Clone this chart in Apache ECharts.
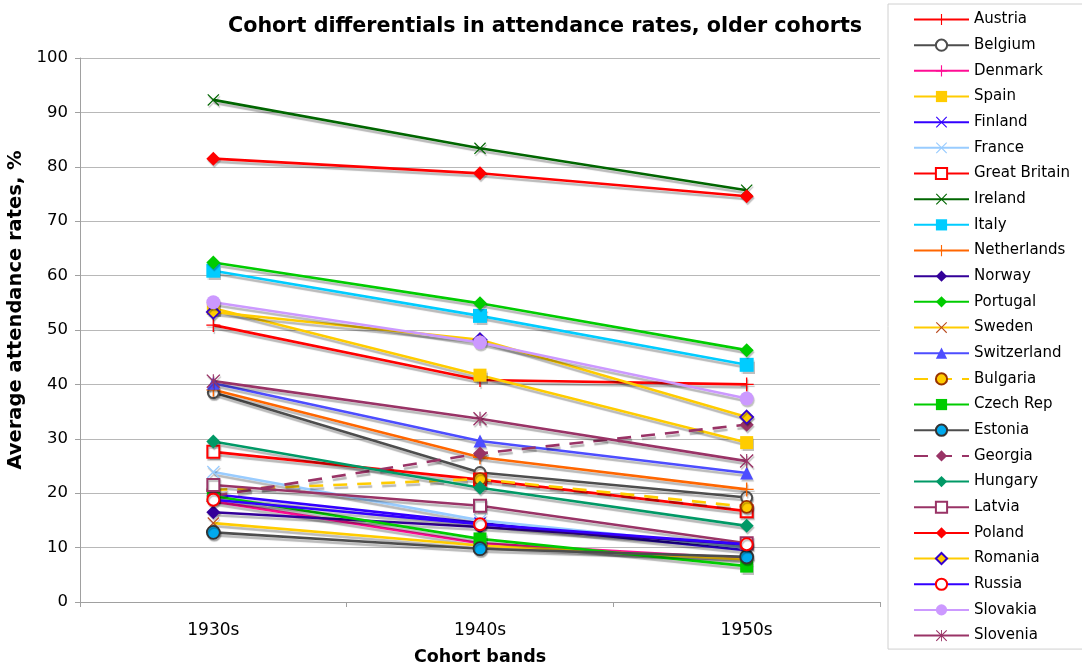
<!DOCTYPE html>
<html>
<head>
<meta charset="utf-8">
<script src="https://cdn.jsdelivr.net/npm/echarts@6/dist/echarts.min.js"></script>
<style>
  html, body { margin: 0; padding: 0; background: #fff; }
  #chart { width: 1082px; height: 666px; }
</style>
</head>
<body>
<div id="chart"></div>
<script>
// Cohort bands on the x axis
const categories = ['1930s', '1940s', '1950s'];
const yTicks = [0, 10, 20, 30, 40, 50, 60, 70, 80, 90, 100];

// Average attendance rates (%) per country, one value per cohort band
const austria      = [50.9, 40.8, 40.0];
const belgium      = [38.5, 23.8, 19.2];
const denmark      = [18.5, 10.8, 8.0];
const spain        = [54.0, 41.7, 29.3];
const finland      = [19.8, 14.5, 9.5];
const france       = [23.9, 15.0, 10.0];
const greatBritain = [27.6, 22.5, 16.7];
const ireland      = [92.3, 83.4, 75.7];
const italy        = [60.9, 52.6, 43.6];
const netherlands  = [39.0, 26.6, 20.7];
const norway       = [16.5, 13.8, 10.6];
const portugal     = [62.4, 54.9, 46.3];
const sweden       = [14.5, 10.4, 7.8];
const switzerland  = [40.2, 29.6, 23.7];
const bulgaria     = [20.6, 22.6, 17.5];
const czechRep     = [19.5, 11.6, 6.6];
const estonia      = [12.8, 9.8, 8.3];
const georgia      = [19.5, 27.3, 32.6];
const hungary      = [29.5, 21.0, 14.0];
const latvia       = [21.5, 17.7, 10.8];
const poland       = [81.5, 78.8, 74.6];
const romania      = [53.3, 48.2, 34.0];
const russia       = [18.8, 14.3, 10.6];
const slovakia     = [55.1, 47.7, 37.4];
const slovenia     = [40.6, 33.7, 25.9];

// Marker shapes drawn as paths
const PLUS  = 'path://M9,0h2v20h-2z M0,9h20v2h-20z';
const CROSS = 'path://M1.4,0L10,8.6L18.6,0L20,1.4L11.4,10L20,18.6L18.6,20L10,11.4L1.4,20L0,18.6L8.6,10L0,1.4Z';
const STAR  = 'path://M9.2,0h1.6v20h-1.6z M1.4,0L10,8.6L18.6,0L20,1.4L11.4,10L20,18.6L18.6,20L10,11.4L1.4,20L0,18.6L8.6,10L0,1.4Z';

// name, values, line colour, symbol, symbol size, marker colour, marker border, dashed
const seriesDefs = [
  ['Austria',       austria,      '#ff0000', PLUS,          14, '#ff0000', null,      false],
  ['Belgium',       belgium,      '#4d4d4d', 'emptyCircle', 11, '#4d4d4d', '#4d4d4d', false],
  ['Denmark',       denmark,      '#ff0d94', PLUS,          14, '#ff0d94', null,      false],
  ['Spain',         spain,        '#ffcc00', 'rect',        13, '#ffcc00', null,      false],
  ['Finland',       finland,      '#3300ff', CROSS,         12, '#3300ff', null,      false],
  ['France',        france,       '#99ccff', CROSS,         13, '#99ccff', null,      false],
  ['Great Britain', greatBritain, '#ff0000', 'emptyRect',   12, '#ff0000', '#ff0000', false],
  ['Ireland',       ireland,      '#006600', CROSS,         12, '#006600', null,      false],
  ['Italy',         italy,        '#00ccff', 'rect',        14, '#00ccff', null,      false],
  ['Netherlands',   netherlands,  '#ff6600', PLUS,          14, '#ff6600', null,      false],
  ['Norway',        norway,       '#330099', 'diamond',     14, '#330099', null,      false],
  ['Portugal',      portugal,     '#00cc00', 'diamond',     14, '#00cc00', null,      false],
  ['Sweden',        sweden,       '#ffcc00', CROSS,         12, '#b84a1e', null,      false],
  ['Switzerland',   switzerland,  '#4d4dff', 'triangle',    13, '#4d4dff', null,      false],
  ['Bulgaria',      bulgaria,     '#ffcc00', 'circle',      12, '#ffcc00', '#993300', true],
  ['Czech Rep',     czechRep,     '#00cc00', 'rect',        13, '#00cc00', null,      false],
  ['Estonia',       estonia,      '#4d4d4d', 'circle',      13, '#00aaee', '#333333', false],
  ['Georgia',       georgia,      '#993366', 'diamond',     14, '#993366', null,      true],
  ['Hungary',       hungary,      '#009966', 'diamond',     14, '#009966', null,      false],
  ['Latvia',        latvia,       '#993366', 'emptyRect',   12, '#993366', '#993366', false],
  ['Poland',        poland,       '#ff0000', 'diamond',     14, '#ff0000', null,      false],
  ['Romania',       romania,      '#ffcc00', 'diamond',     13, '#ffcc00', '#3300cc', false],
  ['Russia',        russia,       '#3300ff', 'emptyCircle', 12, '#ff0000', '#ff0000', false],
  ['Slovakia',      slovakia,     '#cc99ff', 'circle',      14, '#cc99ff', null,      false],
  ['Slovenia',      slovenia,     '#993366', STAR,          14, '#993366', null,      false]
];

const FONT = 'DejaVu Sans, Verdana, sans-serif';

const series = seriesDefs.map(([name, data, color, symbol, size, fill, border, dashed]) => ({
  name,
  type: 'line',
  data,
  symbol,
  symbolSize: size,
  symbolKeepAspect: true,
  showAllSymbol: true,
  lineStyle: {
    color,
    width: 2.6,
    type: dashed ? [14, 10] : 'solid',
    shadowColor: 'rgba(0,0,0,0.28)',
    shadowBlur: 1,
    shadowOffsetX: 1,
    shadowOffsetY: 3
  },
  itemStyle: {
    color: fill,
    borderColor: border || fill,
    borderWidth: border ? 1.8 : 0,
    shadowColor: 'rgba(0,0,0,0.25)',
    shadowBlur: 1,
    shadowOffsetX: 1,
    shadowOffsetY: 2
  },
  emphasis: { disabled: true },
  animation: false
}));

const chart = echarts.init(document.getElementById('chart'), null, { renderer: 'canvas' });
chart.setOption({
  backgroundColor: '#ffffff',
  animation: false,
  title: {
    text: 'Cohort differentials in attendance rates, older cohorts',
    left: 223,
    top: 11,
    textStyle: { fontFamily: FONT, fontWeight: 'bold', fontSize: 20.7, color: '#000' }
  },
  legend: {
    orient: 'vertical',
    left: 888,
    top: 4,
    padding: [8, 20, 6, 25],
    itemWidth: 55,
    itemHeight: 14,
    itemGap: 10.67,
    borderColor: '#d0d0d0',
    borderWidth: 1,
    textStyle: { fontFamily: FONT, fontSize: 15, lineHeight: 15, color: '#000' },
    data: seriesDefs.map(d => d[0])
  },
  grid: { left: 80, right: 202, top: 58, bottom: 64, containLabel: false, outerBoundsMode: 'none' },
  xAxis: {
    type: 'category',
    data: categories,
    boundaryGap: true,
    name: 'Cohort bands',
    nameLocation: 'middle',
    nameGap: 46,
    nameTextStyle: { fontFamily: FONT, fontWeight: 'bold', fontSize: 17.5, color: '#000' },
    axisLine: { lineStyle: { color: '#a0a0a0', width: 1 } },
    axisTick: { show: true, length: 5, lineStyle: { color: '#a0a0a0' } },
    axisLabel: { fontFamily: FONT, fontSize: 17, color: '#000', margin: 20 },
    splitLine: { show: false }
  },
  yAxis: {
    type: 'value',
    min: yTicks[0],
    max: yTicks[yTicks.length - 1],
    interval: yTicks[1] - yTicks[0],
    name: 'Average attendance rates, %',
    nameLocation: 'middle',
    nameGap: 52,
    nameRotate: 90,
    nameTextStyle: { fontFamily: FONT, fontWeight: 'bold', fontSize: 19.5, color: '#000', padding: [0, 0, 0, 40] },
    axisLine: { show: true, lineStyle: { color: '#a0a0a0', width: 1 } },
    axisTick: { show: true, length: 5, lineStyle: { color: '#a0a0a0' } },
    axisLabel: { fontFamily: FONT, fontSize: 16.5, color: '#000', margin: 12 },
    splitLine: { show: true, lineStyle: { color: '#b8b8b8', width: 1 } }
  },
  series
});
</script>
</body>
</html>
